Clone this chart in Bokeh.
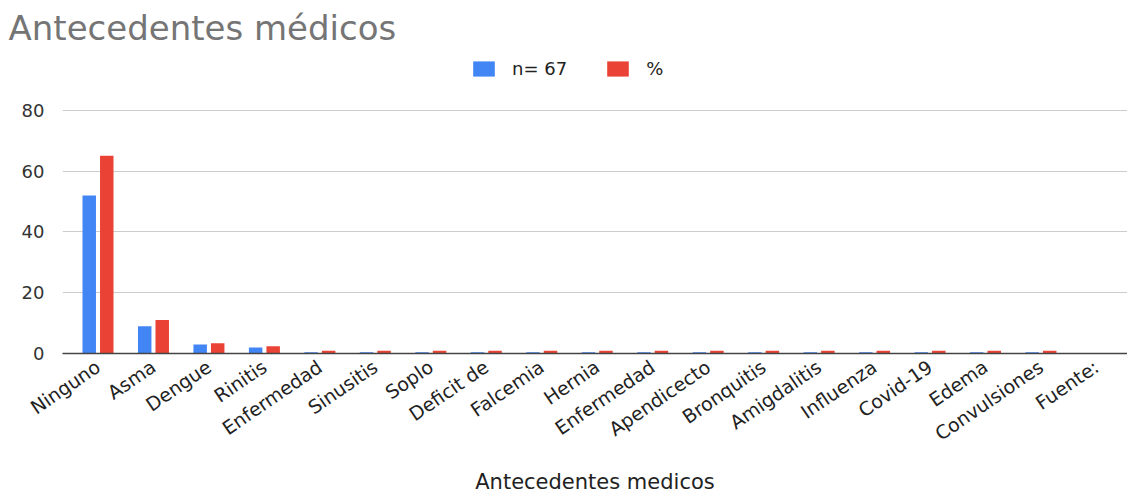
import numpy as np
from bokeh.plotting import figure
from bokeh.models import (ColumnDataSource, Range1d, FixedTicker, Legend,
                          LegendItem, Title)
from bokeh.embed import file_html
from bokeh.resources import INLINE

# Antecedentes médicos: conteo (n = 67) y porcentaje por categoría
categorias = ["Ninguno", "Asma", "Dengue", "Rinitis", "Enfermedad",
              "Sinusitis", "Soplo", "Deficit de", "Falcemia", "Hernia",
              "Enfermedad", "Apendicecto", "Bronquitis", "Amigdalitis",
              "Influenza", "Covid-19", "Edema", "Convulsiones", "Fuente:"]
n_valores = [52, 9, 3, 2, 0.4, 0.4, 0.4, 0.4, 0.4, 0.4, 0.4, 0.4, 0.4,
             0.4, 0.4, 0.4, 0.4, 0.4, 0]
pct_valores = [65, 11, 3.4, 2.4, 0.9, 0.9, 0.9, 0.9, 0.9, 0.9, 0.9, 0.9,
               0.9, 0.9, 0.9, 0.9, 0.9, 0.9, 0]
y_ticks = [0, 20, 40, 60, 80]

FONT = "DejaVu Sans"
AZUL = "#4285F4"
ROJO = "#EA4335"

idx = np.arange(len(categorias))
fuente = ColumnDataSource(dict(
    x_n=idx - 0.158, x_p=idx + 0.158, n=n_valores, p=pct_valores))

# the frame reaches up to the legend row; grid lines stop at 80
p = figure(width=1127, height=496, output_backend="svg",
           toolbar_location=None, title=None,
           x_range=Range1d(-0.64, 18.56), y_range=Range1d(0, 99),
           min_border_left=62, min_border_right=0,
           min_border_top=50, min_border_bottom=143)
p.outline_line_color = None
p.background_fill_color = "white"
p.border_fill_color = "white"

r_n = p.vbar(x="x_n", top="n", width=0.243, source=fuente,
             fill_color=AZUL, line_color=None)
r_p = p.vbar(x="x_p", top="p", width=0.243, source=fuente,
             fill_color=ROJO, line_color=None)

# eje x con nombres de categoría
p.xaxis.ticker = FixedTicker(ticks=list(idx))
p.xaxis.major_label_overrides = {int(i): c for i, c in zip(idx, categorias)}
p.xaxis.major_label_orientation = 0.6
p.xaxis.major_label_text_font = FONT
p.xaxis.major_label_text_font_size = "19px"
p.xaxis.major_label_text_color = "#222222"
p.xaxis.major_tick_line_color = None
p.xaxis.minor_tick_line_color = None
p.xaxis.axis_line_color = "#444444"
p.xaxis.axis_line_width = 1.5
p.xaxis.major_label_standoff = 5
p.xaxis.axis_label = "Antecedentes medicos"
p.xaxis.axis_label_text_font = FONT
p.xaxis.axis_label_text_font_size = "21px"
p.xaxis.axis_label_text_font_style = "normal"
p.xaxis.axis_label_text_color = "#222222"
p.xaxis.axis_label_standoff = 13

# eje y
p.yaxis.ticker = FixedTicker(ticks=y_ticks)
p.yaxis.axis_line_color = None
p.yaxis.major_tick_line_color = None
p.yaxis.minor_tick_line_color = None
p.yaxis.major_label_text_font = FONT
p.yaxis.major_label_text_font_size = "18px"
p.yaxis.major_label_text_color = "#333333"
p.yaxis.major_label_standoff = 12

p.xgrid.grid_line_color = None
p.ygrid.grid_line_color = "#cccccc"
p.ygrid.grid_line_width = 1

leyenda = Legend(items=[LegendItem(label="n= 67", renderers=[r_n]),
                        LegendItem(label="%", renderers=[r_p])],
                 orientation="horizontal", location=(408, 274),
                 glyph_width=27, glyph_height=19, label_standoff=15,
                 spacing=37, padding=0, margin=0, label_height=16,
                 border_line_color=None, background_fill_alpha=0,
                 label_text_font=FONT, label_text_font_size="18px",
                 label_text_color="#222222")
p.add_layout(leyenda, "center")

titulo = Title(text="Antecedentes médicos", text_font=FONT,
               text_font_size="34px", text_font_style="normal",
               text_color="#757575", align="left", offset=-54, standoff=10)
p.add_layout(titulo, "above")

open("out.html", "w").write(file_html(p, INLINE))
